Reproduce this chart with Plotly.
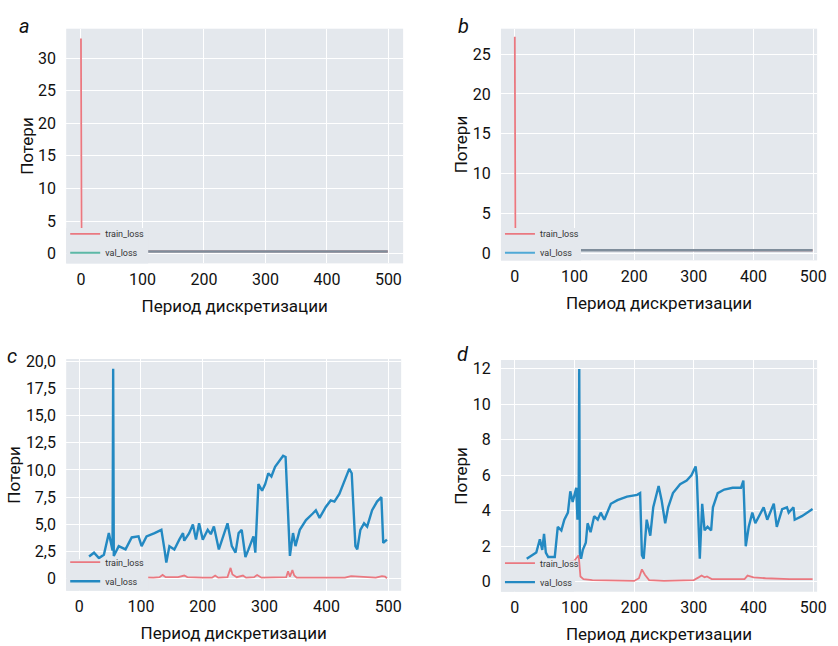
import plotly.graph_objects as go

# ---------------- data ----------------
epoch_ticks = [0, 100, 200, 300, 400, 500]

# panel a
a_train_x = [0, 1, 100, 200, 300, 400, 499]
a_train_y = [33.0, 0.4, 0.35, 0.33, 0.32, 0.32, 0.32]
a_val_x = [0, 1, 100, 200, 300, 400, 499]
a_val_y = [0.35, 0.33, 0.32, 0.32, 0.32, 0.32, 0.32]
a_yticks = [0, 5, 10, 15, 20, 25, 30]

# panel b
b_train_x = [0, 1, 100, 200, 300, 400, 499]
b_train_y = [27.2, 0.45, 0.4, 0.38, 0.37, 0.37, 0.37]
b_val_x = [0, 1, 100, 200, 300, 400, 499]
b_val_y = [0.38, 0.37, 0.37, 0.37, 0.37, 0.37, 0.37]
b_yticks = [0, 5, 10, 15, 20, 25]

# panel c
c_train_x = [0, 20, 60, 100, 120, 130, 135, 140, 160, 170, 175, 200, 215, 220, 225,
             240, 245, 248, 255, 265, 270, 283, 288, 295, 320, 335, 338, 341, 345, 348,
             352, 370, 400, 430, 440, 450, 480, 490, 495, 498]
c_train_y = [0.6, 0.25, 0.2, 0.1, 0.1, 0.15, 0.35, 0.15, 0.15, 0.3, 0.15, 0.1, 0.1, 0.3, 0.1,
             0.15, 1.0, 0.4, 0.15, 0.3, 0.1, 0.15, 0.35, 0.1, 0.1, 0.15, 0.7, 0.2, 0.8, 0.3,
             0.1, 0.1, 0.05, 0.1, 0.25, 0.2, 0.1, 0.25, 0.2, 0.05]
c_val_x = [16, 24, 32, 40, 48, 54, 55, 56, 64, 75, 85, 96, 101, 109, 122,
           133, 138, 141, 146, 154, 162, 168, 170, 178, 184, 189, 194, 200, 208, 213,
           218, 226, 240, 245, 247, 253, 258, 263, 269, 274, 282, 285, 290, 296, 301,
           306, 311, 317, 325, 330, 334, 341, 346, 350, 357, 367, 378, 383, 389, 399,
           407, 413, 421, 429, 437, 441, 447, 450, 455, 461, 466, 474, 482, 489, 492, 498]
c_val_y = [2.05, 2.4, 1.9, 2.2, 4.2, 2.6, 19.3, 2.1, 3.0, 2.7, 3.8, 3.9, 3.0, 3.9, 4.2,
           4.5, 2.7, 1.5, 3.0, 2.7, 3.6, 4.2, 3.5, 4.2, 5.0, 3.6, 5.1, 3.6, 4.5, 4.1,
           4.8, 2.7, 5.1, 3.6, 3.0, 2.4, 4.2, 4.5, 2.0, 2.7, 3.9, 2.4, 8.7, 8.1, 8.7,
           9.7, 9.4, 10.3, 10.9, 11.3, 11.2, 2.1, 4.2, 3.0, 4.5, 5.4, 6.0, 6.3, 5.6, 6.6,
           7.2, 7.1, 7.8, 9.0, 10.1, 9.7, 3.0, 2.7, 4.5, 5.1, 4.8, 6.3, 7.1, 7.5, 3.3, 3.6]
c_yticks = [0, 2.5, 5, 7.5, 10, 12.5, 15, 17.5, 20]
c_yticklabels = ["0", "2,5", "5,0", "7,5", "10,0", "12,5", "15,0", "17,5", "20,0"]

# panel d
d_train_x = [0, 50, 100, 107, 110, 115, 130, 200, 208, 213, 218, 225, 250, 300, 308,
             313, 318, 322, 330, 385, 390, 395, 400, 420, 460, 499]
d_train_y = [0.8, 0.9, 1.2, 1.5, 0.3, 0.15, 0.1, 0.05, 0.2, 0.7, 0.4, 0.1, 0.05, 0.1, 0.25,
             0.35, 0.25, 0.3, 0.15, 0.15, 0.35, 0.3, 0.25, 0.2, 0.15, 0.15]
d_val_x = [20, 28, 36, 42, 46, 49, 52, 56, 67, 72, 78, 83, 89, 93, 97,
           103, 105, 107, 108, 109, 111, 114, 119, 122, 127, 133, 139, 144, 150, 161,
           172, 188, 205, 210, 213, 216, 221, 227, 232, 241, 246, 252, 257, 265, 277,
           288, 296, 303, 305, 310, 314, 318, 323, 329, 332, 340, 351, 365, 379, 383,
           387, 392, 398, 403, 409, 417, 423, 434, 439, 448, 456, 459, 467, 469, 481, 499]
d_val_y = [1.3, 1.5, 1.65, 2.4, 1.8, 2.7, 1.65, 1.4, 1.4, 3.1, 2.9, 3.5, 3.9, 5.1, 4.5,
           5.3, 3.5, 4.2, 12.0, 1.6, 1.3, 1.8, 2.2, 3.3, 2.8, 3.7, 3.5, 3.9, 3.5, 4.4,
           4.6, 4.8, 4.9, 5.0, 1.5, 1.3, 3.5, 2.6, 4.2, 5.4, 4.6, 3.3, 4.2, 5.0, 5.5,
           5.7, 6.0, 6.5, 5.9, 1.3, 4.4, 2.9, 3.1, 2.9, 4.2, 5.0, 5.2, 5.3, 5.3, 5.7,
           2.0, 3.1, 3.9, 3.3, 3.7, 4.2, 3.5, 4.4, 3.1, 4.1, 4.2, 3.9, 4.2, 3.5, 3.7, 4.1]
d_yticks = [0, 2, 4, 6, 8, 10, 12]

x_title = "Период дискретизации"
y_title = "Потери"

# ---------------- styles ----------------
FONT = "Roboto, Liberation Sans, sans-serif"
BG = "#e4e8ed"
RED = "#ea7880"
BLUE = "#2389c2"
TEAL = "#5cb8a6"
GRAYLINE = "#7f8d9b"
LIGHTBLUE = "#4fa9d6"
W, H = 838, 646

fig = go.Figure()

def add_panel(idx, tx, ty, vx, vy, val_color, val_legend_color, legend_name):
    xa = "x" if idx == 1 else f"x{idx}"
    ya = "y" if idx == 1 else f"y{idx}"
    fig.add_trace(go.Scatter(x=tx, y=ty, mode="lines", name="train_loss",
                             line=dict(color=RED, width=1.8), xaxis=xa, yaxis=ya,
                             legend=legend_name))
    same = val_color == val_legend_color
    fig.add_trace(go.Scatter(x=vx, y=vy, mode="lines", name="val_loss",
                             line=dict(color=val_color, width=2.4), xaxis=xa, yaxis=ya,
                             showlegend=same, legend=legend_name))
    if not same:
        fig.add_trace(go.Scatter(x=[None], y=[None], mode="lines", name="val_loss",
                                 line=dict(color=val_legend_color, width=2), xaxis=xa,
                                 yaxis=ya, legend=legend_name))

add_panel(1, a_train_x, a_train_y, a_val_x, a_val_y, GRAYLINE, TEAL, "legend")
add_panel(2, b_train_x, b_train_y, b_val_x, b_val_y, GRAYLINE, LIGHTBLUE, "legend2")
add_panel(3, c_train_x, c_train_y, c_val_x, c_val_y, BLUE, BLUE, "legend3")
add_panel(4, d_train_x, d_train_y, d_val_x, d_val_y, BLUE, BLUE, "legend4")


def px_x(p):
    return p / W


def px_y(p):
    return 1 - p / H


common_x = dict(tickvals=epoch_ticks, ticktext=[str(t) for t in epoch_ticks],
                showgrid=True, gridcolor="white", gridwidth=1, zeroline=False,
                showline=False, ticks="outside", ticklen=1, tickcolor="rgba(0,0,0,0)",
                tickfont=dict(family=FONT, size=16, color="#111"),
                title=dict(text=x_title, font=dict(family=FONT, size=17, color="#111"),
                           standoff=12))
common_y = dict(showgrid=True, gridcolor="white", gridwidth=1, zeroline=False,
                showline=False, ticks="outside", ticklen=6, tickcolor="rgba(0,0,0,0)",
                tickfont=dict(family=FONT, size=16, color="#111"),
                title=dict(text=y_title, font=dict(family=FONT, size=17, color="#111"),
                           standoff=0))

panels = {
    1: dict(xd=[67, 408], yd=[22, 260], xr=[-24, 524], yr=[-1.5, 34.5],
            yt=a_yticks, ytl=[str(v) for v in a_yticks]),
    2: dict(xd=[507, 827], yd=[22, 257], xr=[-23.2, 506.6], yr=[-0.9, 28.2],
            yt=b_yticks, ytl=[str(v) for v in b_yticks]),
    3: dict(xd=[67, 406], yd=[357, 592], xr=[-21, 521], yr=[-1.1, 20.2],
            yt=c_yticks, ytl=c_yticklabels),
    4: dict(xd=[507, 827], yd=[358, 593], xr=[-23.2, 506.6], yr=[-0.56, 12.5],
            yt=d_yticks, ytl=[str(v) for v in d_yticks]),
}

layout = {}
for i, p in panels.items():
    xk = "xaxis" if i == 1 else f"xaxis{i}"
    yk = "yaxis" if i == 1 else f"yaxis{i}"
    ya = "y" if i == 1 else f"y{i}"
    xa = "x" if i == 1 else f"x{i}"
    layout[xk] = dict(common_x, domain=[px_x(p["xd"][0]), px_x(p["xd"][1])],
                      range=p["xr"], anchor=ya)
    layout[yk] = dict(common_y, domain=[px_y(p["yd"][1]), px_y(p["yd"][0])],
                      range=p["yr"], anchor=xa, tickvals=p["yt"], ticktext=p["ytl"])

# legends (transparent, over a mask that hides lines like the matplotlib legend frame)
legend_common = dict(font=dict(family=FONT, size=9, color="#333"),
                     bgcolor="rgba(0,0,0,0)", borderwidth=0, itemwidth=30,
                     xanchor="left", yanchor="bottom", tracegroupgap=0)
layout["legend"] = dict(legend_common, x=px_x(66), y=px_y(264))
layout["legend2"] = dict(legend_common, x=px_x(506), y=px_y(264))
layout["legend3"] = dict(legend_common, x=px_x(66), y=px_y(597))
layout["legend4"] = dict(legend_common, x=px_x(506), y=px_y(598))

masks = [(67, 150, 224, 260), (507, 588, 224, 257), (67, 150, 560, 592), (507, 582, 561, 593)]
shapes = []
for (x0, x1, y0, y1) in masks:
    shapes.append(dict(type="rect", xref="paper", yref="paper", layer="above",
                       x0=px_x(x0), x1=px_x(x1), y0=px_y(y1), y1=px_y(y0),
                       fillcolor=BG, line=dict(width=0)))
layout["shapes"] = shapes

fig.update_layout(**layout)

# panel letters
for letter, (lx, ly) in {"a": (25, 19), "b": (469, 19), "c": (12, 354), "d": (469, 352)}.items():
    fig.add_annotation(text=f"<i>{letter}</i>", x=px_x(lx), y=px_y(ly), xref="paper",
                       yref="paper", xanchor="center", yanchor="middle", showarrow=False,
                       font=dict(family=FONT, size=20, color="#111"))

fig.update_layout(width=W, height=H, margin=dict(l=0, r=0, t=0, b=0),
                  paper_bgcolor="white", plot_bgcolor=BG, showlegend=True,
                  font=dict(family=FONT))

fig.write_html("out.html", config={"displayModeBar": False},
               post_script="document.body.style.margin='0';document.body.style.overflow='hidden';")
